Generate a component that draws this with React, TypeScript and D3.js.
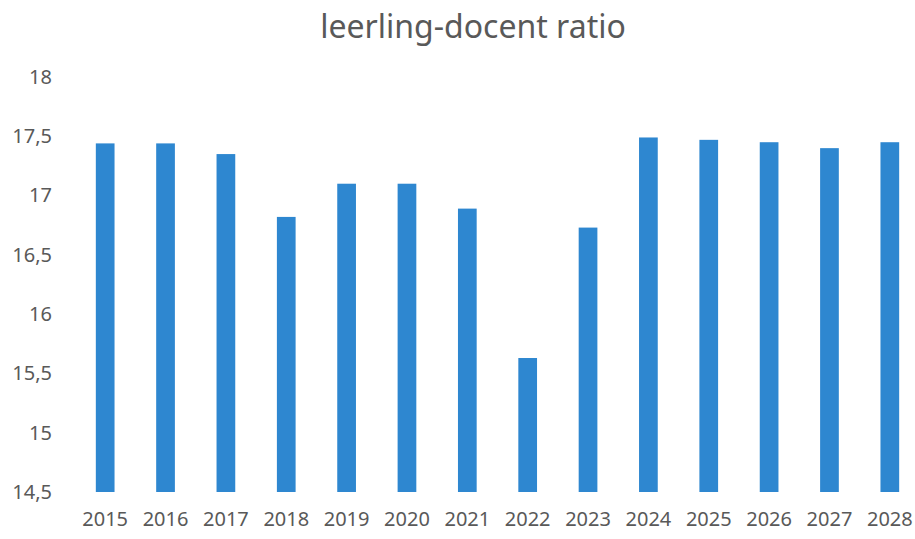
import React, { useEffect, useRef } from 'react';
import * as d3 from 'd3';

const years = ['2015', '2016', '2017', '2018', '2019', '2020', '2021', '2022', '2023', '2024', '2025', '2026', '2027', '2028'];
const ratios = [17.44, 17.44, 17.35, 16.82, 17.1, 17.1, 16.89, 15.63, 16.73, 17.49, 17.47, 17.45, 17.4, 17.45];
const yTicks = [14.5, 15, 15.5, 16, 16.5, 17, 17.5, 18];

const width = 915;
const height = 539;
const margin = { top: 77, right: -5, bottom: 47, left: 75 };

const App: React.FC = () => {
  const svgRef = useRef<SVGSVGElement>(null);

  useEffect(() => {
    if (!svgRef.current) return;
    const svg = d3.select(svgRef.current);
    svg.selectAll('*').remove();

    const chartWidth = width - margin.left - margin.right;
    const chartHeight = height - margin.top - margin.bottom;

    const xScale = d3.scaleBand<string>()
      .domain(years)
      .range([0, chartWidth])
      .paddingInner(0.69)
      .paddingOuter(0.345);

    const yScale = d3.scaleLinear()
      .domain([14.5, 18])
      .range([chartHeight, 0]);

    const font = "'Noto Sans', sans-serif";

    // Title
    svg.append('text')
      .attr('x', 473)
      .attr('y', 38)
      .attr('text-anchor', 'middle')
      .attr('font-family', font)
      .attr('font-size', 32)
      .attr('fill', '#595959')
      .text('leerling-docent ratio');

    const g = svg.append('g')
      .attr('transform', `translate(${margin.left},${margin.top})`);

    // Y axis labels
    const yAxis = d3.axisLeft(yScale)
      .tickValues(yTicks)
      .tickSize(0)
      .tickPadding(23)
      .tickFormat(d => String(d).replace('.', ','));

    g.append('g')
      .call(yAxis)
      .call(ax => ax.select('.domain').remove())
      .call(ax => ax.selectAll('text')
        .attr('font-family', font)
        .attr('font-size', 20)
        .attr('fill', '#595959'));

    // X axis labels
    g.append('g')
      .attr('transform', `translate(0,${chartHeight})`)
      .call(d3.axisBottom(xScale).tickSize(0).tickPadding(20))
      .call(ax => ax.select('.domain').remove())
      .call(ax => ax.selectAll('text')
        .attr('font-family', font)
        .attr('font-size', 20)
        .attr('fill', '#595959'));

    // Bars
    g.selectAll('rect.bar')
      .data(ratios)
      .enter()
      .append('rect')
      .attr('class', 'bar')
      .attr('x', (_, i) => xScale(years[i]) ?? 0)
      .attr('width', xScale.bandwidth())
      .attr('y', d => yScale(d))
      .attr('height', d => yScale(14.5) - yScale(d))
      .attr('fill', '#2e87d0');
  }, []);

  return (
    <svg
      ref={svgRef}
      width={width}
      height={height}
      style={{ position: 'absolute', left: 0, top: 0, background: '#fff' }}
    />
  );
};

export default App;
